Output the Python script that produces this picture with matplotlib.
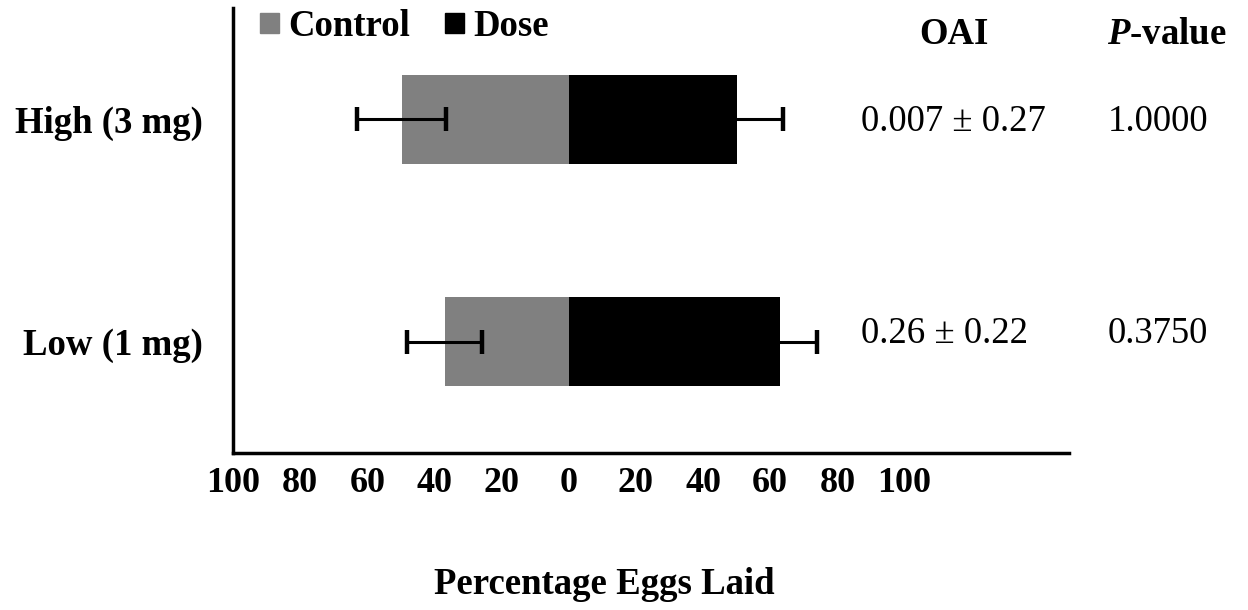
import matplotlib.pyplot as plt
from matplotlib.patches import Patch
from matplotlib.ticker import FuncFormatter

plt.rcParams['font.family'] = ['Liberation Serif', 'DejaVu Serif']
plt.rcParams['mathtext.fontset'] = 'custom'
plt.rcParams['mathtext.bfit'] = 'Liberation Serif:italic:bold'

# Data
groups = ['Low (1 mg)', 'High (3 mg)']
control = [37.0, 49.8]
control_err = [11.2, 13.3]
dose = [63.0, 50.2]
dose_err = [10.9, 13.6]
oai = ['0.26 \u00b1 0.22', '0.007 \u00b1 0.27']
pvals = ['0.3750', '1.0000']
ticks = [-100, -80, -60, -40, -20, 0, 20, 40, 60, 80, 100]

fig = plt.figure(figsize=(12.48, 6.10), dpi=100)
ax = fig.add_axes([0.1867, 0.2574, 0.6699, 0.7295])

y = range(len(groups))
neg = [-v for v in control]
ax.barh(y, neg, height=0.4, color='#808080', label='Control', zorder=2)
ax.barh(y, dose, height=0.4, color='black', label='Dose', zorder=2)

ebar = dict(fmt='none', ecolor='black', elinewidth=2.2, capsize=8.5,
            capthick=3.2, zorder=3)
ax.errorbar(neg, y, xerr=control_err, **ebar)
ax.errorbar(dose, y, xerr=dose_err, **ebar)

ax.set_xlim(-100, 149)
ax.set_ylim(-0.5, 1.5)

ax.set_xticks(ticks)
ax.xaxis.set_major_formatter(FuncFormatter(lambda v, p: f'{abs(v):.0f}'))
ax.set_yticks(list(y))
ax.set_yticklabels(groups)
ax.tick_params(axis='x', length=0, pad=10, labelsize=26)
ax.tick_params(axis='y', length=0, pad=22, labelsize=26.5)
for lbl in ax.get_xticklabels() + ax.get_yticklabels():
    lbl.set_fontweight('bold')

for side in ['top', 'right']:
    ax.spines[side].set_visible(False)
for side in ['left', 'bottom']:
    ax.spines[side].set_linewidth(2.5)

fig.text(604 / 1248, 1 - 584 / 610, 'Percentage Eggs Laid', ha='center',
         va='center', fontsize=26.5, fontweight='bold')

# OAI and P-value columns
ax.text(114.6, 1.38, 'OAI', ha='center', va='center', fontsize=26.5,
        fontweight='bold')
ax.text(178, 1.38, r'$\mathbfit{P}$-value', ha='center', va='center',
        fontsize=26.5, fontweight='bold')
row_y = [0.035, 0.99]
for yy, o, p in zip(row_y, oai, pvals):
    ax.text(87, yy, o, ha='left', va='center', fontsize=26.5)
    ax.text(190.5, yy, p, ha='right', va='center', fontsize=26.5)

handles = [Patch(color='#808080', label='Control'),
           Patch(color='black', label='Dose')]
fig.legend(handles=handles, loc='center left',
           bbox_to_anchor=(260 / 1248, 1 - 27 / 610), ncol=2, frameon=False,
           prop={'weight': 'bold', 'size': 26.5}, handlelength=0.52,
           handleheight=0.46, handletextpad=0.25, columnspacing=0.95,
           borderpad=0, borderaxespad=0)

fig.savefig('out.png', dpi=100)
